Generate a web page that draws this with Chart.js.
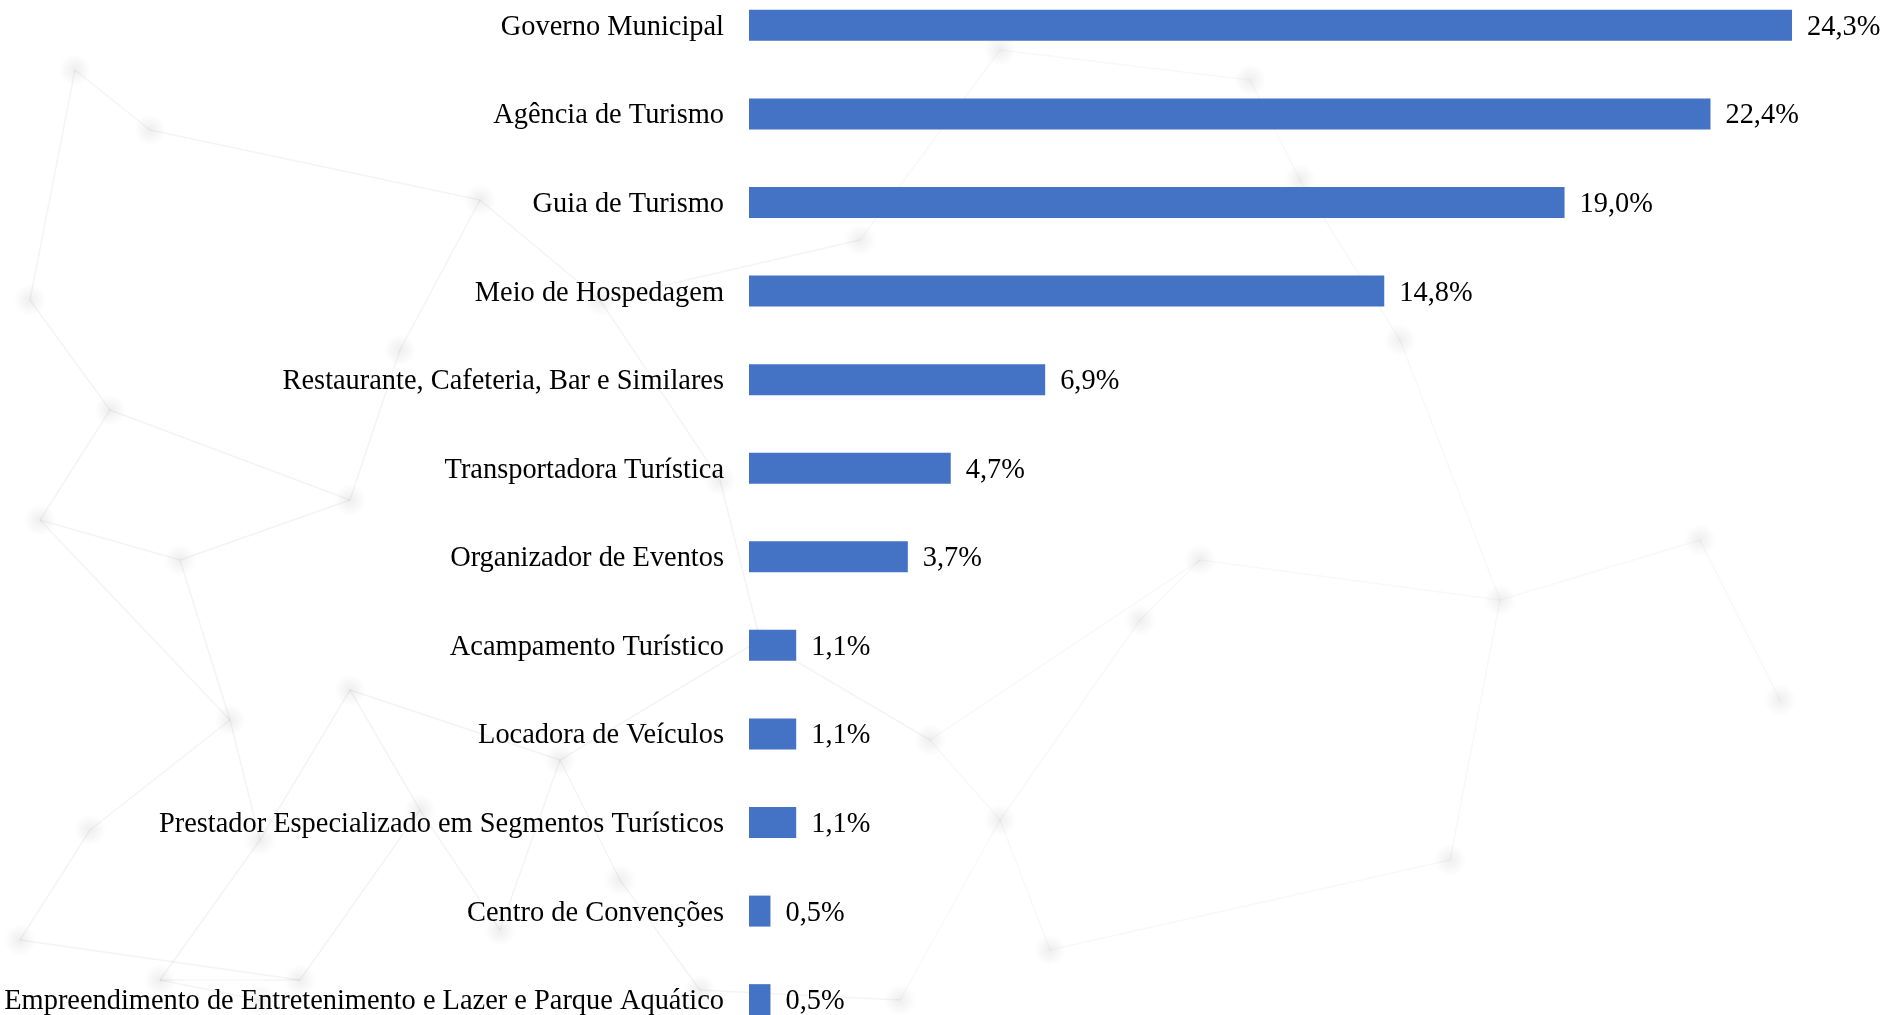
<!DOCTYPE html>
<html>
<head>
<meta charset="utf-8">
<script src="https://cdn.jsdelivr.net/npm/chart.js@4.4.1/dist/chart.umd.min.js"></script>
<style>
  html, body { margin: 0; padding: 0; width: 1881px; height: 1015px; overflow: hidden; background: #ffffff; }
  #c { position: absolute; left: 0; top: -53px; width: 1881px; height: 1131px; display: block; }
</style>
</head>
<body>
<canvas id="c" width="1881" height="1131"></canvas>
<script>
const categories = [
  "Governo Municipal",
  "Agência de Turismo",
  "Guia de Turismo",
  "Meio de Hospedagem",
  "Restaurante, Cafeteria, Bar e Similares",
  "Transportadora Turística",
  "Organizador de Eventos",
  "Acampamento Turístico",
  "Locadora de Veículos",
  "Prestador Especializado em Segmentos Turísticos",
  "Centro de Convenções",
  "Empreendimento de Entretenimento e Lazer e Parque Aquático"
];
const percentages = [24.3, 22.4, 19.0, 14.8, 6.9, 4.7, 3.7, 1.1, 1.1, 1.1, 0.5, 0.5];

const FONT = "'Liberation Serif', 'Times New Roman', serif";
const SHIFT = 53;

// faint decorative network in the background
const bgNodes = [
  [30,300],[75,70],[150,130],[40,520],[110,410],[180,560],[230,720],[90,830],[20,940],
  [260,840],[350,690],[420,810],[300,980],[500,930],[560,760],[620,880],[700,990],
  [160,980],[260,1000],[400,350],[480,200],[350,500],[600,300],[720,480],[760,640],
  [900,1000],[1000,820],[1050,950],[930,740],[1200,560],[1140,620],[1300,180],[1250,80],
  [1000,50],[860,240],[1400,340],[1500,600],[1700,540],[1780,700],[1450,860]
];
const bgEdges = [
  [0,1],[1,2],[0,4],[4,3],[3,5],[5,6],[6,7],[7,8],[6,9],[9,10],[10,11],[11,12],[12,17],[17,18],
  [11,13],[13,14],[14,15],[15,16],[10,14],[4,21],[21,19],[19,20],[20,22],[22,23],[23,24],[24,14],
  [2,20],[5,21],[16,25],[25,26],[26,27],[26,28],[28,24],[28,29],[29,30],[30,26],[22,34],[34,33],
  [33,32],[32,31],[31,35],[35,36],[36,37],[37,38],[36,39],[39,27],[29,36],[8,12],[3,6],[9,17]
];
const bgPlugin = {
  id: 'bgNet',
  beforeDraw(chart) {
    const ctx = chart.ctx;
    ctx.save();
    ctx.fillStyle = '#ffffff';
    ctx.fillRect(0, 0, chart.width, chart.height);
    ctx.lineWidth = 1.5;
    bgEdges.forEach(([a, b]) => {
      const p = bgNodes[a], q = bgNodes[b];
      const alpha = (p[0] + q[0]) / 2 < 900 ? 0.06 : 0.035;
      ctx.strokeStyle = 'rgba(60,60,60,' + alpha + ')';
      ctx.beginPath();
      ctx.moveTo(p[0], p[1] + SHIFT);
      ctx.lineTo(q[0], q[1] + SHIFT);
      ctx.stroke();
    });
    bgNodes.forEach(([x, y]) => {
      const g = ctx.createRadialGradient(x, y + SHIFT, 0, x, y + SHIFT, 16);
      g.addColorStop(0, 'rgba(90,90,90,0.10)');
      g.addColorStop(1, 'rgba(90,90,90,0)');
      ctx.fillStyle = g;
      ctx.beginPath();
      ctx.arc(x, y + SHIFT, 16, 0, Math.PI * 2);
      ctx.fill();
    });
    ctx.restore();
  }
};

const valueLabels = {
  id: 'valueLabels',
  afterDatasetsDraw(chart) {
    const ctx = chart.ctx;
    const meta = chart.getDatasetMeta(0);
    ctx.save();
    ctx.font = "28.4px " + FONT;
    ctx.fillStyle = '#000000';
    ctx.textAlign = 'left';
    ctx.textBaseline = 'middle';
    meta.data.forEach((bar, i) => {
      const v = chart.data.datasets[0].data[i];
      ctx.fillText(v.toFixed(1).replace('.', ',') + '%', bar.x + 15, bar.y + 2);
    });
    ctx.restore();
  }
};

new Chart(document.getElementById('c'), {
  type: 'bar',
  data: {
    labels: categories,
    datasets: [{
      data: percentages,
      backgroundColor: '#4472C4',
      borderWidth: 0,
      categoryPercentage: 0.7,
      barPercentage: 0.5
    }]
  },
  options: {
    indexAxis: 'y',
    responsive: false,
    devicePixelRatio: 1,
    animation: false,
    layout: { padding: { left: 0, right: 16, top: 0, bottom: 0 } },
    plugins: {
      legend: { display: false },
      tooltip: { enabled: false }
    },
    scales: {
      x: {
        display: false,
        min: 0,
        max: 26
      },
      y: {
        grid: { display: false },
        border: { display: false },
        ticks: {
          color: '#000000',
          padding: 17,
          labelOffset: 2,
          font: { family: FONT, size: 28.4 }
        },
        afterFit(scale) { scale.width = 749; }
      }
    }
  },
  plugins: [bgPlugin, valueLabels]
});
</script>
</body>
</html>
